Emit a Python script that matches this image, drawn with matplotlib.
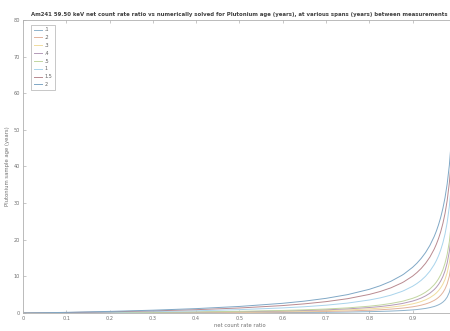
import matplotlib
matplotlib.use("Agg")
import matplotlib.pyplot as plt

# ratio values (x) and solved ages (y), one list per span
ratio = [0, 0.1, 0.2, 0.3, 0.4, 0.5, 0.6, 0.65, 0.7, 0.75, 0.8, 0.825, 0.85,
         0.875, 0.88, 0.9, 0.91, 0.92, 0.93, 0.94, 0.95, 0.955, 0.96, 0.965,
         0.97, 0.975, 0.98, 0.985, 0.99]

age_01 = [0, 0.01, 0.03, 0.04, 0.07, 0.10, 0.15, 0.18, 0.23, 0.30, 0.40, 0.47, 0.56,
          0.69, 0.72, 0.88, 0.98, 1.12, 1.28, 1.51, 1.81, 2.02, 2.27, 2.58,
          3.00, 3.56, 4.39, 5.69, 8.07]
age_02 = [0, 0.02, 0.05, 0.09, 0.13, 0.20, 0.30, 0.37, 0.46, 0.59, 0.78, 0.92, 1.10,
          1.35, 1.41, 1.72, 1.92, 2.17, 2.49, 2.90, 3.47, 3.84, 4.30, 4.87,
          5.60, 6.59, 7.99, 10.12, 13.83]
age_03 = [0, 0.03, 0.07, 0.13, 0.20, 0.30, 0.44, 0.55, 0.68, 0.88, 1.16, 1.36, 1.62,
          1.99, 2.08, 2.52, 2.81, 3.17, 3.62, 4.21, 5.00, 5.51, 6.14, 6.91,
          7.90, 9.21, 11.04, 13.76, 18.31]
age_04 = [0, 0.04, 0.10, 0.17, 0.26, 0.39, 0.59, 0.72, 0.90, 1.16, 1.53, 1.79, 2.13,
          2.60, 2.72, 3.29, 3.66, 4.12, 4.69, 5.43, 6.42, 7.05, 7.82, 8.77,
          9.96, 11.53, 13.68, 16.83, 21.97]
age_05 = [0, 0.06, 0.12, 0.21, 0.33, 0.49, 0.73, 0.90, 1.12, 1.43, 1.89, 2.21, 2.63,
          3.20, 3.34, 4.03, 4.47, 5.02, 5.70, 6.57, 7.74, 8.48, 9.37, 10.46,
          11.83, 13.61, 16.02, 19.49, 25.07]
age_1 = [0, 0.11, 0.24, 0.41, 0.64, 0.95, 1.42, 1.74, 2.16, 2.74, 3.58, 4.15, 4.90,
         5.90, 6.15, 7.32, 8.07, 8.96, 10.06, 11.44, 13.23, 14.34, 15.65, 17.22,
         19.15, 21.57, 24.75, 29.15, 35.85]
age_15 = [0, 0.16, 0.36, 0.61, 0.94, 1.40, 2.06, 2.53, 3.13, 3.94, 5.10, 5.89, 6.90,
          8.24, 8.56, 10.09, 11.06, 12.20, 13.58, 15.29, 17.47, 18.81, 20.36, 22.20,
          24.43, 27.19, 30.74, 35.56, 42.75]
age_2 = [0, 0.21, 0.47, 0.80, 1.23, 1.82, 2.68, 3.27, 4.03, 5.05, 6.49, 7.46, 8.69,
         10.29, 10.67, 12.49, 13.61, 14.94, 16.52, 18.47, 20.91, 22.39, 24.11, 26.12,
         28.54, 31.50, 35.27, 40.35, 47.81]

spans = [".1", ".2", ".3", ".4", ".5", "1", "1.5", "2"]
ages = [age_01, age_02, age_03, age_04, age_05, age_1, age_15, age_2]

# MATLAB default order, washed out like the reference
colors = ["#8fb3cc", "#e2b39c", "#f0dc9e", "#b49ab8", "#c2d6a0",
          "#a9d4ec", "#b98a90", "#80a8c6"]

fig = plt.figure(figsize=(4.5, 3.31), dpi=100)
ax = fig.add_axes([0.051, 0.054, 0.962, 0.886])

for a, lab, c in zip(ages, spans, colors):
    ax.plot(ratio, a, color=c, lw=0.7, label=lab)

ax.set_xlim(0, 1)
ax.set_ylim(0, 80)
ax.set_xticks([0, 0.1, 0.2, 0.3, 0.4, 0.5, 0.6, 0.7, 0.8, 0.9])
ax.set_xticklabels(["0", "0.1", "0.2", "0.3", "0.4", "0.5", "0.6", "0.7", "0.8", "0.9"])
ax.set_yticks(range(0, 81, 10))

for s in ax.spines.values():
    s.set_color("#b0b0b0")
    s.set_linewidth(0.6)
ax.tick_params(direction="in", length=2.5, width=0.5, colors="#b0b0b0",
               labelcolor="#707070", labelsize=3.6, top=True, right=True, pad=2)

ax.set_title("Am241 59.50 keV net count rate ratio vs numerically solved for Plutonium age (years), "
             "at various spans (years) between measurements",
             fontsize=3.9, color="#404040", fontweight="bold", pad=2.5)
ax.set_xlabel("net count rate ratio", fontsize=3.8, color="#707070", labelpad=1.5)
ax.set_ylabel("Plutonium sample age (years)", fontsize=3.8, color="#707070", labelpad=3)

leg = ax.legend(loc="upper left", bbox_to_anchor=(0.013, 0.992), fontsize=3.5,
                handlelength=1.7, labelspacing=0.58, borderpad=0.55,
                handletextpad=0.5, fancybox=False, framealpha=1)
leg.get_frame().set_edgecolor("#b0b0b0")
leg.get_frame().set_linewidth(0.5)
for t in leg.get_texts():
    t.set_color("#606060")

fig.savefig("out.png", dpi=100)
